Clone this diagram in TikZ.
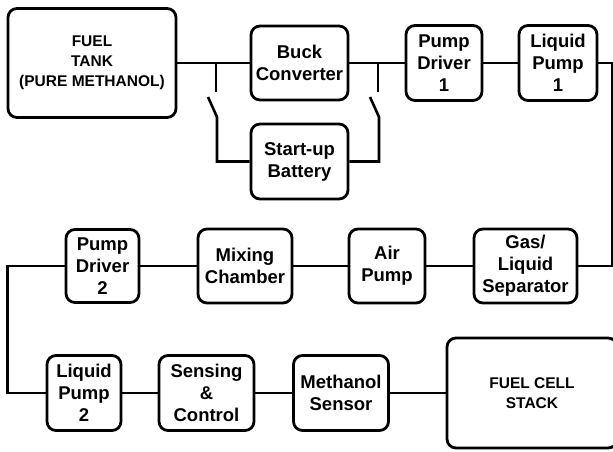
\documentclass[tikz,border=0pt]{standalone}
\usepackage{fontspec}
\setmainfont{Liberation Sans}
\begin{document}
\begin{tikzpicture}[x=1pt,y=-1pt,
  blk/.style={draw=black,line width=2.8pt,rounded corners=9pt,inner sep=0pt,align=center,
    font=\fontsize{18.5}{22}\selectfont\bfseries},
  bigblk/.style={blk,font=\fontsize{15.5}{20}\selectfont\bfseries},
  wire/.style={line width=2.6pt,line cap=butt}]
\useasboundingbox (0,0) rectangle (613,452);
\clip (0,0) rectangle (613,452);
% row 1
\node[bigblk,minimum width=168pt,minimum height=109pt] (tank) at (92,63) {FUEL\\TANK\\(PURE METHANOL)};
\node[blk,minimum width=97pt,minimum height=74pt] (buck) at (299.5,63) {Buck\\Converter};
\node[blk,minimum width=76pt,minimum height=75pt] (pd1) at (444,63) {Pump\\Driver\\1};
\node[blk,minimum width=78pt,minimum height=75pt] (lp1) at (558,63) {Liquid\\Pump\\1};
\node[blk,minimum width=97pt,minimum height=75pt] (batt) at (299.5,161.5) {Start-up\\Battery};
% row 2
\node[blk,minimum width=73pt,minimum height=73pt] (pd2) at (102.5,266) {Pump\\Driver\\2};
\node[blk,minimum width=94pt,minimum height=74pt] (mix) at (245,266) {Mixing\\Chamber};
\node[blk,minimum width=76pt,minimum height=74pt] (air) at (387,266) {Air\\Pump};
\node[blk,minimum width=103pt,minimum height=74pt] (gas) at (525.5,266) {Gas/\\Liquid\\Separator};
% row 3
\node[blk,minimum width=74pt,minimum height=75pt] (lp2) at (84,393) {Liquid\\Pump\\2};
\node[blk,minimum width=95pt,minimum height=75pt] (sens) at (206.5,393) {Sensing\\\&\\Control};
\node[blk,minimum width=95pt,minimum height=75pt] (meth) at (341,393) {Methanol\\Sensor};
\node[bigblk,minimum width=170pt,minimum height=110pt] (fc) at (532,393) {FUEL CELL\\STACK};
% switch points
\coordinate (s1a) at (216,63);
\coordinate (s1b) at (216,92);
\coordinate (s1c) at (208,97);
\coordinate (s1d) at (217,117);
\coordinate (s2a) at (378,63);
\coordinate (s2b) at (378,92);
\coordinate (s2c) at (370,97);
\coordinate (s2d) at (379,117);
\coordinate (r1) at (612.5,63);
\coordinate (r2) at (612.5,266);
\coordinate (l1) at (7.5,266);
\coordinate (l2) at (7.5,393);
% wires row 1
\draw[wire] (tank.east) -- (buck.west);
\draw[wire] (buck.east) -- (pd1.west);
\draw[wire] (pd1.east) -- (lp1.west);
\draw[wire] (s1a) -- (s1b);
\draw[wire] (s1c) -- (s1d) -- (s1d |- batt.west) -- (batt.west);
\draw[wire] (s2a) -- (s2b);
\draw[wire] (s2c) -- (s2d) -- (s2d |- batt.east) -- (batt.east);
\draw[wire] (lp1.east) -- (r1) -- (r2) -- (gas.east);
% row 2
\draw[wire] (pd2.east) -- (mix.west);
\draw[wire] (mix.east) -- (air.west);
\draw[wire] (air.east) -- (gas.west);
\draw[wire] (pd2.west) -- (l1) -- (l2) -- (lp2.west);
% row 3
\draw[wire] (lp2.east) -- (sens.west);
\draw[wire] (sens.east) -- (meth.west);
\draw[wire] (meth.east) -- (fc.west);
\end{tikzpicture}
\end{document}
